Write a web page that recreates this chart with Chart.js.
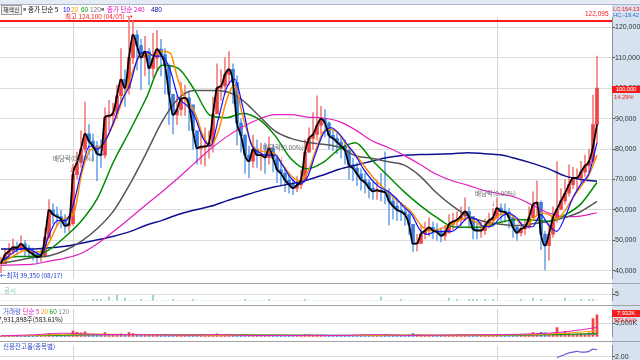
<!DOCTYPE html>
<html><head><meta charset="utf-8">
<script src="https://cdn.jsdelivr.net/npm/chart.js@4.4.1/dist/chart.umd.min.js"></script>
<style>
html,body{margin:0;padding:0;width:640px;height:360px;overflow:hidden;background:#fff;}
body{position:relative;font-family:"Liberation Sans","Noto Sans CJK KR",sans-serif;}
.t{position:absolute;white-space:nowrap;line-height:1;font-size:6.5px;}
.k{font-family:"Noto Sans CJK KR","Liberation Sans",sans-serif;}
.s{font-size:6px;letter-spacing:-0.15px;}
canvas{position:absolute;left:0;}
.sep{position:absolute;left:0;width:640px;height:1px;background:#a3a3a3;}
</style></head><body>
<div style="position:absolute;left:612px;top:4px;width:28px;height:356px;background:#d6e2ef;"></div>
<div style="position:absolute;left:0;top:0;width:640px;height:4px;background:#e4ebf4;border-bottom:1px solid #aab7c7;"></div>
<canvas id="main" width="640" height="278" style="top:5px"></canvas>
<canvas id="disc" width="640" height="21" style="top:284px"></canvas>
<canvas id="vol" width="640" height="36" style="top:305px"></canvas>
<canvas id="cred" width="640" height="30" style="top:341px"></canvas>
<div class="sep" style="top:283px"></div>
<div class="sep" style="top:305px"></div>
<div class="sep" style="top:341px"></div>

<div class="t k" style="left:1px;top:5px;height:8px;padding:0 1px;border:1px solid #9a9a9a;background:#f2f2f2;color:#222;font-size:6px;line-height:8px">재색신</div>
<div class="t" style="left:23px;top:7px;color:#777;font-size:5.5px">■</div>
<div class="t k" style="left:28px;top:6px;color:#000">종가 단순 5</div>
<div class="t" style="left:63px;top:7px;color:#0000ff">10</div>
<div class="t" style="left:71px;top:7px;color:#ff9900">20</div>
<div class="t" style="left:81px;top:7px;color:#009900">60</div>
<div class="t" style="left:90px;top:7px;color:#777">120</div>
<div class="t" style="left:101px;top:7px;color:#777;font-size:5.5px">■</div>
<div class="t k" style="left:107px;top:6px;color:#e010c0">종가 단순 240</div>
<div class="t" style="left:151px;top:7px;color:#0000a0">480</div>
<div class="t k" style="left:65px;top:12.5px;color:#ff2020">최고 124,100 (04/05) →</div>
<div class="t" style="left:585px;top:11px;color:#ff2020">122,095</div>
<div class="t s" style="left:613px;top:6px;color:#ff2020">LC:154.13</div>
<div class="t s" style="left:613px;top:12px;color:#2f6fd8">HC:-19.42</div>
<div class="t s" style="left:612px;top:86px;width:28px;height:7px;background:#f21c1c;color:#fff;text-align:center;line-height:7px">100,000</div>
<div class="t s" style="left:614px;top:94px;color:#ff2020">14.29%</div>
<div class="t k" style="left:53px;top:155px;color:#666">배당락(0.00%)</div>
<div class="t k" style="left:263px;top:144px;color:#666">배당락(0.00%)</div>
<div class="t k" style="left:475px;top:190px;color:#666">배당락(0.00%)</div>
<div class="t" style="left:69px;top:166px;color:#ff0000;font-size:8px;font-weight:bold">↓</div>
<div class="t" style="left:279px;top:155px;color:#ff0000;font-size:8px;font-weight:bold">↓</div>
<div class="t" style="left:491px;top:200px;color:#ff0000;font-size:8px;font-weight:bold">↓</div>
<div class="t k" style="left:0px;top:272px;color:#2040d0">←최저 39,350 (08/17)</div>
<div class="t k" style="left:4px;top:287px;color:#8cc4aa">공시</div>
<div class="t k" style="left:3px;top:308px;color:#4a5cc8">거래량 <span style="color:#e020c0">단순 5</span> <span style="color:#ff9900">20</span> <span style="color:#009900">60</span> <span style="color:#888">120</span></div>
<div class="t k" style="left:-2px;top:316px;color:#111">7,931,898주(583.61%)</div>
<div class="t k" style="left:3px;top:343px;color:#3a50c8">신용잔고율(종목별)</div>
<div class="t s" style="left:612px;top:310px;width:28px;height:7px;background:#f21c1c;color:#fff;text-align:center;line-height:7px">7,932K</div>
<div class="t s" style="left:614px;top:317px;color:#ff2020">583.61%</div>

<script>
// ---- price data (thousand KRW), one candle per slot ----
const close=[42.4,45.3,46.5,47.8,47.6,48.9,47.6,46.3,45.5,44.5,
45.0,51.0,60.0,58.5,57.8,57.0,54.8,55.5,71.6,75.5,
80.0,85.0,82.6,81.0,78.5,78.0,90.5,91.0,91.8,97.5,
102.9,100.0,110.0,117.5,114.0,110.0,112.0,106.5,109.8,112.8,
111.0,107.5,98.0,91.2,93.0,96.5,96.8,94.5,86.0,80.2,
80.8,80.8,82.0,91.5,100.0,100.7,104.5,106.2,101.8,88.5,
84.5,78.0,76.0,80.0,78.0,78.0,77.2,80.2,77.0,73.3,
72.0,69.8,68.3,67.2,68.2,69.8,79.0,83.5,84.8,87.8,
89.9,88.5,84.5,83.5,82.3,81.0,79.6,74.8,73.7,71.8,
70.0,69.0,67.2,66.1,66.5,66.1,65.8,62.9,61.3,60.0,
59.4,58.4,55.3,48.9,49.0,52.2,53.2,54.3,53.2,52.8,
51.5,52.5,55.3,56.2,56.8,58.0,59.5,57.8,53.8,53.2,
53.2,54.8,56.6,57.5,60.6,59.5,59.3,57.5,54.3,52.5,
53.8,54.3,57.5,61.8,62.5,52.0,48.3,52.1,57.5,60.3,
63.0,65.5,68.3,70.5,70.5,72.5,74.5,75.9,88.0,100.0];
const high=[44.5,47.5,49.0,50.5,49.5,51.5,50.0,48.5,47.5,46.5,
47.0,54.0,63.4,62.0,61.0,60.0,58.5,58.0,75.0,79.0,
86.0,95.4,88.0,85.0,82.5,83.0,93.5,96.0,95.0,101.0,
113.0,106.0,124.1,122.0,119.0,116.0,117.0,113.0,118.0,119.0,
116.0,113.0,108.0,98.0,97.5,102.0,101.0,99.0,94.0,86.0,
85.0,87.0,86.0,97.0,108.0,106.0,110.0,112.0,108.0,104.0,
90.0,85.0,81.0,84.5,83.0,82.0,82.0,84.0,81.5,78.0,
76.0,73.5,71.5,70.0,71.0,73.0,83.0,87.0,92.0,97.5,
94.0,93.0,89.0,86.5,85.5,84.0,83.0,80.0,77.0,75.5,
73.5,72.0,70.0,69.0,69.5,72.0,79.1,67.0,64.5,63.0,
62.5,61.5,59.0,55.0,52.0,55.0,56.0,57.5,56.0,55.5,
54.0,55.0,58.5,59.0,59.5,61.0,64.0,61.0,57.0,55.5,
56.0,57.0,59.0,60.5,64.0,62.0,62.0,60.5,57.0,55.0,
56.0,57.0,61.0,66.0,69.6,63.0,53.0,55.5,61.0,75.9,
67.0,70.0,74.8,74.0,73.5,76.0,78.0,80.0,97.7,110.5];
const low=[39.4,42.5,44.0,45.5,45.5,46.5,45.0,44.0,43.5,42.5,
43.0,44.5,50.5,55.5,55.0,54.0,52.5,53.0,55.0,70.0,
74.0,79.0,78.0,76.0,69.5,74.0,77.0,86.0,87.5,90.0,
95.0,94.0,98.0,108.0,106.0,99.5,104.0,101.0,103.5,106.0,
104.0,98.0,88.0,85.0,88.0,91.0,91.0,86.0,80.0,75.0,
75.0,74.4,77.0,79.0,92.0,96.0,98.0,101.0,95.0,81.3,
79.0,72.0,70.5,74.0,74.0,73.0,72.0,75.0,72.5,69.0,
68.0,66.0,65.5,65.0,66.0,67.0,70.0,79.0,80.0,83.0,
85.0,84.0,80.0,79.5,78.5,77.0,75.0,70.0,69.5,68.0,
66.5,65.5,64.0,63.5,63.5,63.0,62.0,55.0,57.0,56.5,
56.5,54.9,52.0,46.2,46.5,49.0,50.5,51.5,50.5,50.0,
49.5,50.0,52.5,53.5,54.0,55.0,56.5,54.0,50.5,50.5,
51.0,52.0,54.0,55.0,57.0,56.5,56.0,54.0,51.0,50.0,
51.5,52.0,54.0,58.0,58.5,47.0,40.3,43.5,51.0,56.0,
60.0,62.0,64.5,67.0,66.5,69.0,71.0,72.5,76.0,82.0];
// ---- moving averages (evenly spaced over the candles) ----
const ma5=[42.4,45.3,46.5,47.8,47.6,48.9,47.6,46.3,45.5,44.5,
45.0,51.0,60.0,58.5,57.8,57.0,54.8,55.5,71.6,75.5,
80.0,85.0,82.6,81.0,78.5,78.0,90.5,91.0,91.8,97.5,
102.9,100.0,110.0,117.5,114.0,110.0,112.0,106.5,109.8,112.8,
111.0,107.5,98.0,91.2,93.0,96.5,96.8,94.5,86.0,80.2,
80.8,80.8,82.0,91.5,100.0,100.7,104.5,106.2,101.8,88.5,
84.5,78.0,76.0,80.0,78.0,78.0,77.2,80.2,77.0,73.3,
72.0,69.8,68.3,67.2,68.2,69.8,79.0,83.5,84.8,87.8,
89.9,88.5,84.5,83.5,82.3,81.0,79.6,74.8,73.7,71.8,
70.0,69.0,67.2,66.1,66.5,66.1,65.8,62.9,61.3,60.0,
59.4,58.4,55.3,48.9,49.0,52.2,53.2,54.3,53.2,52.8,
51.5,52.5,55.3,56.2,56.8,58.0,59.5,57.8,53.8,53.2,
53.2,54.8,56.6,57.5,60.6,59.5,59.3,57.5,54.3,52.5,
53.8,54.3,57.5,61.8,62.5,52.0,48.3,52.1,57.5,60.3,
63.0,65.5,68.3,70.5,70.5,72.5,74.5,75.9,80.8,88.0];
const ma10=[43.0,45.0,46.8,47.5,46.5,45.2,52.0,56.5,56.5,62.0,
73.0,81.0,80.0,83.0,89.0,96.0,101.0,110.0,112.0,110.5,
110.5,106.0,97.0,94.5,91.0,84.0,81.0,90.0,100.0,103.0,
94.0,82.0,79.0,78.0,78.0,74.5,70.5,68.5,70.5,78.0,
85.0,87.0,85.0,81.5,78.0,73.5,70.0,67.5,66.2,64.0,
61.0,58.5,53.5,52.0,53.0,53.0,53.0,55.0,57.5,57.0,
54.5,54.8,57.5,59.0,57.5,54.5,54.5,58.5,55.0,53.0,
57.5,64.0,68.5,72.0,82.0];
const ma20=[42.4,44.0,45.6,46.7,46.3,46.2,49.5,55.0,57.4,58.6,
71.6,79.5,80.5,83.0,88.5,95.4,103.0,109.5,111.2,110.8,
112.1,111.5,102.5,96.0,92.5,85.0,81.0,86.0,96.0,101.0,
91.0,82.5,79.5,79.1,78.5,74.8,71.3,69.6,72.0,79.0,
85.6,86.5,84.8,81.0,78.2,74.8,71.3,68.5,66.0,63.5,
61.5,59.2,55.5,53.2,53.4,54.3,55.6,56.8,57.2,56.0,
54.3,56.0,58.6,58.8,56.9,54.3,56.8,59.0,58.5,57.0,
59.7,64.0,67.7,71.5,78.0];
const ma60=[43.5,44.7,44.8,47.0,51.3,56.5,64.0,76.0,86.0,96.5,
107.5,106.5,99.5,91.0,90.3,91.7,89.8,84.5,76.8,73.5,
75.6,80.0,82.1,76.6,71.3,66.1,61.6,57.7,54.6,54.3,
54.6,56.0,56.9,56.7,56.3,58.3,62.0,69.0];
const ma120=[42.4,43.4,44.4,45.0,46.8,49.8,54.0,59.8,68.5,78.5,
89.0,96.5,99.2,99.2,98.8,96.0,91.0,86.0,83.5,82.2,
81.6,80.6,77.8,77.0,75.9,74.8,71.2,65.8,61.4,58.0,
56.2,55.3,54.9,55.5,56.2,57.5,59.5,62.8];
const ma240=[41.8,42.0,42.2,43.2,44.2,45.8,49.0,53.0,57.3,61.7,
66.0,70.5,75.3,80.0,84.0,87.3,89.8,91.3,91.3,90.5,
90.2,89.0,86.3,82.8,80.6,78.0,75.0,71.8,69.6,68.1,
66.4,65.3,64.0,61.6,59.0,57.8,58.0,59.1];
const ma480=[47.2,47.2,47.2,47.6,48.1,49.1,50.2,51.4,52.9,55.0,
56.6,58.5,60.0,61.2,63.0,64.6,66.2,67.6,68.6,69.8,
71.5,73.4,74.7,76.0,77.2,78.0,78.2,78.3,78.5,78.8,
78.5,78.1,76.8,75.3,73.5,71.2,70.0,69.4];
// ---- volume (thousand shares) ----
const volume=[300,450,380,500,420,320,360,260,300,280,
320,700,1200,600,450,380,320,400,2100,1600,
1400,1800,900,700,650,520,1500,900,700,900,
1100,700,1500,1200,900,700,800,650,700,800,
600,550,800,900,600,500,450,500,700,800,
500,450,400,900,1100,700,800,900,700,900,
700,800,600,500,450,400,380,420,380,400,
380,350,330,320,300,380,900,800,600,700,
700,600,500,450,420,400,380,500,450,400,
380,350,330,320,300,450,900,600,500,400,
380,500,700,1200,900,700,600,550,500,450,
420,400,500,550,500,600,800,600,650,500,
450,500,600,550,900,700,600,550,700,600,
500,550,900,1500,1300,1600,1400,1000,1100,3300,
1200,2000,1300,900,1000,1200,1100,1400,6600,7932];
const vma5=[350,700,1300,900,800,700,600,800,450,500,420,500,800,500,600,700,800,1100,1800,3400];
const vma20=[400,500,900,1000,800,700,650,600,550,500,450,480,550,600,550,600,650,900,1300,2200];
const vma60=[400,420,600,800,850,800,750,700,650,580,520,500,520,550,560,580,600,700,900,1200];
const vma120=[380,400,500,600,700,720,730,720,700,680,640,600,580,570,560,570,580,620,700,850];
// ---- disclosures count ----
const disclosure=[0,0,0,0,0,0,0,0,0,0, 0,0,0,0,0,0,0,0,0,0,
0,0,0,1,1,1,0,3,0,4, 0,2,0,0,0,1,0,0,4,0,
0,0,0,1,0,0,0,0,1,0, 0,0,0,0,0,0,0,0,0,0,
0,1,0,0,0,0,0,1,0,0, 0,0,0,0,0,0,1,0,0,0,
0,0,0,0,0,0,0,0,0,0, 0,0,0,0,0,3,0,0,0,0,
1,0,0,0,0,0,0,0,0,0, 0,0,2,0,1,0,0,1,1,1,
0,1,0,1,0,0,0,0,0,0, 1,0,0,2,0,1,0,0,0,0,
0,2,0,0,0,1,0,1,1,0];
// ---- credit balance ratio (%) for the last candles ----
const creditStart=139;
const creditRatio=[1.99,2.01,2.03,2.05,2.06,2.07,2.06,2.06,2.07,2.10,2.09];
// ---- ticks / references ----
const priceTicks=[40,50,60,70,80,90,100,110,120];
const volTicks=[5000];
const discTicks=[5];
const creditTicks=[2.0];
const yearStartIdx=[18,124];
const highRef=122.095;

const N=close.length, LAST=N-1;
const open=close.map((c,i)=>i?close[i-1]:close[0]);
const up=close.map((c,i)=>c>=open[i]);
const pts=a=>a.map((v,j)=>({x:j*LAST/(a.length-1),y:v}));
const FONT={size:7,family:'Liberation Sans'};

const xScale=()=>({type:'linear',min:-0.25,max:LAST+3.75,offset:false,display:true,
  border:{display:false},grid:{color:'#d4d4d4',drawTicks:false,offset:false},ticks:{display:false},
  afterBuildTicks:s=>{s.ticks=yearStartIdx.map(v=>({value:v}));},afterFit:s=>{s.height=0;}});
const yScale=(min,max,ticks,fmt)=>({position:'right',min,max,
  border:{color:'#8f8f8f'},grid:{color:'#dcdcdc',tickColor:'#555',tickLength:3},
  ticks:{color:'#333',font:FONT,padding:0,callback:fmt},
  afterBuildTicks:s=>{s.ticks=ticks.map(v=>({value:v}));},afterFit:s=>{s.width=28;}});
const line=(data,color,w,order)=>({type:'line',data,borderColor:color,borderWidth:w,pointRadius:0,
  cubicInterpolationMode:'monotone',order});
const base={responsive:false,animation:false,devicePixelRatio:1,events:[],
  plugins:{legend:{display:false},tooltip:{enabled:false}}};

const refLine={id:'refLine',beforeDatasetsDraw(c){const y=Math.round(c.scales.y.getPixelForValue(highRef));
  const ctx=c.ctx;ctx.save();ctx.strokeStyle='#ff1a1a';ctx.lineWidth=2;ctx.beginPath();
  ctx.moveTo(c.chartArea.left,y);ctx.lineTo(c.chartArea.right,y);ctx.stroke();ctx.restore();}};

new Chart(document.getElementById('main'),{type:'bar',
  data:{datasets:[
    line(pts(ma5),'#000000',1.8,0),
    line(pts(ma10),'#1010ff',1.2,1),
    line(pts(ma20),'#ff8c00',1.5,2),
    line(pts(ma60),'#008a00',1.5,3),
    line(pts(ma120),'#555555',1.5,4),
    line(pts(ma240),'#e020c0',1.2,5),
    line(pts(ma480),'#101090',1.5,6),
    {type:'bar',data:close.map((c,i)=>({x:i,y:[low[i],high[i]]})),backgroundColor:up.map(u=>u?'#f08080':'#74a8ea'),
      barThickness:1,grouped:false,order:20},
    {type:'bar',data:close.map((c,i)=>({x:i,y:[open[i],c]})),backgroundColor:up.map(u=>u?'#f04444':'#3a7ee2'),
      barThickness:3,minBarLength:1,grouped:false,order:19}
  ]},
  options:{...base,layout:{padding:{top:12,bottom:1,left:0,right:0}},
    scales:{x:xScale(),y:yScale(37.41,123.35,priceTicks,v=>(v*1000).toLocaleString('en-US'))}},
  plugins:[refLine]});

new Chart(document.getElementById('disc'),{type:'bar',
  data:{datasets:[{data:disclosure.map((v,i)=>({x:i,y:v})),backgroundColor:'#8ccfb2',barThickness:1,grouped:false}]},
  options:{...base,layout:{padding:{top:1,bottom:0.5}},
    scales:{x:xScale(),y:yScale(0,9.3,discTicks,v=>String(v))}}});

new Chart(document.getElementById('vol'),{type:'bar',
  data:{datasets:[
    line(pts(vma5),'#e020c0',1,0),line(pts(vma20),'#ffa500',1,1),
    line(pts(vma60),'#00a000',1,2),line(pts(vma120),'#888888',1,3),
    {type:'bar',data:volume.map((v,i)=>({x:i,y:v})),backgroundColor:up.map(u=>u?'#f04444':'#3a7ee2'),
      barThickness:2,grouped:false,order:10}]},
  options:{...base,layout:{padding:{top:1,bottom:1.5}},
    scales:{x:xScale(),y:yScale(0,10000,volTicks,v=>v.toLocaleString('en-US')+'K')}}});

new Chart(document.getElementById('cred'),{type:'line',
  data:{datasets:[line(creditRatio.map((v,j)=>({x:creditStart+j,y:v})),'#6a5acd',1.2,0)]},
  options:{...base,layout:{padding:{top:1,bottom:1}},
    scales:{x:xScale(),y:yScale(1.87,2.15,creditTicks,v=>v.toFixed(2))}}});
</script>
</body></html>
